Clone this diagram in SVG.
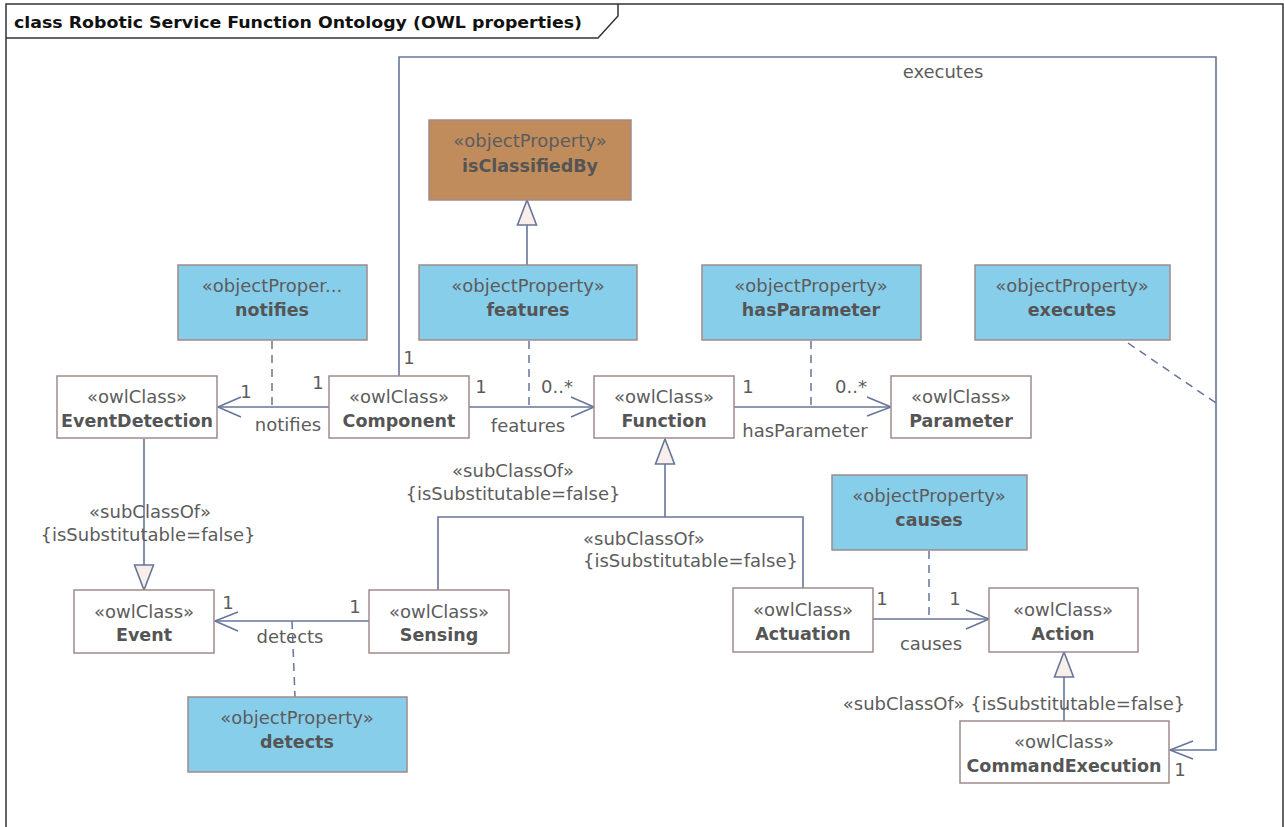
<svg xmlns="http://www.w3.org/2000/svg" width="1284" height="827" viewBox="0 0 1284 827">
<style>
.frame{fill:none;stroke:#333;stroke-width:1.5}
.cls{fill:#ffffff;stroke:#a08a8a;stroke-width:1.5}
.prop{fill:#87ceeb;stroke:#a08a8a;stroke-width:1.5}
.brown{fill:#c08c5c;stroke:#a08a8a;stroke-width:1.5}
.st{font-family:"DejaVu Sans",Verdana,sans-serif;font-size:18px;fill:#5c5c5c;text-anchor:middle}
.nm{font-family:"DejaVu Sans",Verdana,sans-serif;font-size:17.5px;font-weight:bold;fill:#555555;text-anchor:middle}
.lbl{font-family:"DejaVu Sans",Verdana,sans-serif;font-size:18px;fill:#5c5c5c}
.ttl{font-family:"DejaVu Sans",Verdana,sans-serif;font-size:15px;font-weight:bold;fill:#111}
.ln{fill:none;stroke:#66769a;stroke-width:1.6}
.dash{fill:none;stroke:#66769a;stroke-width:1.5;stroke-dasharray:8,6}
.tri{fill:#f8efeb;stroke:#66769a;stroke-width:1.6}
</style>
<rect width="1284" height="827" fill="#ffffff"/>
<g id="frame">
<path class="frame" d="M6,840 V4 H1283 V840"/>
<path class="frame" d="M6,38 H598 L618,16 V4"/>
<text class="ttl" x="14" y="28" textLength="568" lengthAdjust="spacingAndGlyphs">class Robotic Service Function Ontology (OWL properties)</text>
</g>
<g id="connectors">
<!-- isClassifiedBy generalization -->
<path class="ln" d="M527,265 V225"/>
<path class="tri" d="M527,200 L536.5,225 L517.5,225 Z"/>
<!-- notifies -->
<path class="ln" d="M329,407 H218"/>
<path class="ln" d="M241,397 L218,407 L241,417"/>
<path class="dash" d="M272,341 V407"/>
<text class="lbl" x="246" y="398" text-anchor="middle">1</text>
<text class="lbl" x="318" y="389" text-anchor="middle">1</text>
<text class="lbl" x="288" y="431" text-anchor="middle">notifies</text>
<!-- features -->
<path class="ln" d="M469,407 H594"/>
<path class="ln" d="M571,397 L594,407 L571,417"/>
<path class="dash" d="M529,341 V407"/>
<text class="lbl" x="481" y="393" text-anchor="middle">1</text>
<text class="lbl" x="557" y="393" text-anchor="middle">0..*</text>
<text class="lbl" x="528" y="432" text-anchor="middle">features</text>
<!-- hasParameter -->
<path class="ln" d="M734,407 H891"/>
<path class="ln" d="M867,397 L891,407 L867,416"/>
<path class="dash" d="M811,341 V407"/>
<text class="lbl" x="748" y="393" text-anchor="middle">1</text>
<text class="lbl" x="851" y="393" text-anchor="middle">0..*</text>
<text class="lbl" x="805" y="437" text-anchor="middle">hasParameter</text>
<!-- EventDetection -> Event -->
<path class="ln" d="M144,439 V565"/>
<path class="tri" d="M144,590 L153.5,565 L134.5,565 Z"/>
<text class="lbl" x="150" y="518" text-anchor="middle">«subClassOf»</text>
<text class="lbl" x="148" y="541" text-anchor="middle">{isSubstitutable=false}</text>
<!-- detects -->
<path class="ln" d="M369,621 H215"/>
<path class="ln" d="M238,612 L215,621 L238,631"/>
<path class="dash" d="M292,621 L295,697"/>
<text class="lbl" x="228" y="609" text-anchor="middle">1</text>
<text class="lbl" x="355" y="613" text-anchor="middle">1</text>
<text class="lbl" x="290" y="643" text-anchor="middle">detects</text>
<!-- Sensing/Actuation -> Function -->
<path class="ln" d="M438,590 V517 H803 V588"/>
<path class="ln" d="M665,517 V464"/>
<path class="tri" d="M665,439 L674.5,464 L655.5,464 Z"/>
<text class="lbl" x="513" y="477" text-anchor="middle">«subClassOf»</text>
<text class="lbl" x="513" y="500" text-anchor="middle">{isSubstitutable=false}</text>
<text class="lbl" x="583" y="545">«subClassOf»</text>
<text class="lbl" x="583" y="567">{isSubstitutable=false}</text>
<!-- causes -->
<path class="ln" d="M873,619 H989"/>
<path class="ln" d="M966,610 L989,619 L966,629"/>
<path class="dash" d="M929,551 V619"/>
<text class="lbl" x="882" y="605" text-anchor="middle">1</text>
<text class="lbl" x="955" y="605" text-anchor="middle">1</text>
<text class="lbl" x="931" y="650" text-anchor="middle">causes</text>
<!-- CommandExecution -> Action -->
<path class="ln" d="M1064,721 V677"/>
<path class="tri" d="M1064,652 L1073.5,677 L1054.5,677 Z"/>
<text class="lbl" x="1014" y="710" text-anchor="middle">«subClassOf» {isSubstitutable=false}</text>
<!-- executes -->
<path class="ln" d="M399,376 V57 H1216 V750 H1170"/>
<path class="ln" d="M1193,741 L1170,750 L1193,759"/>
<path class="dash" d="M1128,343 L1216,403"/>
<text class="lbl" x="943" y="78" text-anchor="middle">executes</text>
<text class="lbl" x="409" y="364" text-anchor="middle">1</text>
<text class="lbl" x="1180" y="776" text-anchor="middle">1</text>
</g>
<g id="isClassifiedBy">
<rect class="brown" x="429" y="120" width="202" height="80"/>
<text class="st" x="530" y="147">«objectProperty»</text>
<text class="nm" x="530" y="172">isClassifiedBy</text>
</g>
<g id="notifiesProp">
<rect class="prop" x="178" y="265" width="189" height="75"/>
<text class="st" x="272" y="292">«objectProper...</text>
<text class="nm" x="272" y="316">notifies</text>
</g>
<g id="featuresProp">
<rect class="prop" x="419" y="265" width="218" height="75"/>
<text class="st" x="528" y="292">«objectProperty»</text>
<text class="nm" x="528" y="316">features</text>
</g>
<g id="hasParameterProp">
<rect class="prop" x="702" y="265" width="219" height="75"/>
<text class="st" x="811" y="292">«objectProperty»</text>
<text class="nm" x="811" y="316">hasParameter</text>
</g>
<g id="executesProp">
<rect class="prop" x="975" y="265" width="195" height="75"/>
<text class="st" x="1072" y="292">«objectProperty»</text>
<text class="nm" x="1072" y="316">executes</text>
</g>
<g id="causesProp">
<rect class="prop" x="832" y="475" width="195" height="75"/>
<text class="st" x="929" y="502">«objectProperty»</text>
<text class="nm" x="929" y="526">causes</text>
</g>
<g id="detectsProp">
<rect class="prop" x="188" y="697" width="219" height="75"/>
<text class="st" x="297" y="724">«objectProperty»</text>
<text class="nm" x="297" y="748">detects</text>
</g>
<g id="EventDetection">
<rect class="cls" x="57" y="376" width="160" height="62"/>
<text class="st" x="137" y="403">«owlClass»</text>
<text class="nm" x="137" y="427">EventDetection</text>
</g>
<g id="Component">
<rect class="cls" x="329" y="376" width="140" height="62"/>
<text class="st" x="399" y="403">«owlClass»</text>
<text class="nm" x="399" y="427">Component</text>
</g>
<g id="Function">
<rect class="cls" x="594" y="376" width="140" height="62"/>
<text class="st" x="664" y="403">«owlClass»</text>
<text class="nm" x="664" y="427">Function</text>
</g>
<g id="Parameter">
<rect class="cls" x="891" y="376" width="140" height="62"/>
<text class="st" x="961" y="403">«owlClass»</text>
<text class="nm" x="961" y="427">Parameter</text>
</g>
<g id="Event">
<rect class="cls" x="74" y="590" width="140" height="63"/>
<text class="st" x="144" y="618">«owlClass»</text>
<text class="nm" x="144" y="641">Event</text>
</g>
<g id="Sensing">
<rect class="cls" x="369" y="590" width="140" height="63"/>
<text class="st" x="439" y="618">«owlClass»</text>
<text class="nm" x="439" y="641">Sensing</text>
</g>
<g id="Actuation">
<rect class="cls" x="733" y="588" width="140" height="64"/>
<text class="st" x="803" y="616">«owlClass»</text>
<text class="nm" x="803" y="640">Actuation</text>
</g>
<g id="Action">
<rect class="cls" x="989" y="588" width="149" height="64"/>
<text class="st" x="1063" y="616">«owlClass»</text>
<text class="nm" x="1063" y="640">Action</text>
</g>
<g id="CommandExecution">
<rect class="cls" x="960" y="721" width="209" height="62"/>
<text class="st" x="1064" y="748">«owlClass»</text>
<text class="nm" x="1064" y="772">CommandExecution</text>
</g>
</svg>
